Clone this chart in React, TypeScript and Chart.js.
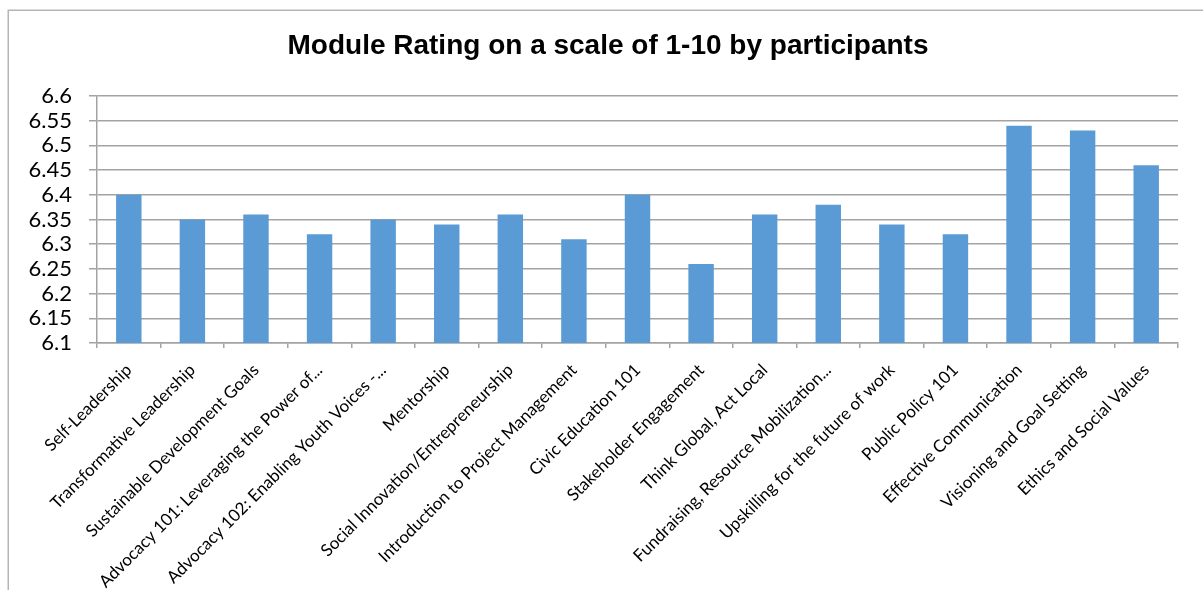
import React, { useEffect, useRef } from "react";
import { Chart, registerables } from "chart.js";

Chart.register(...registerables);

const chartTitle = "Module Rating on a scale of 1-10 by participants";

const modules = [
  "Self-Leadership",
  "Transformative Leadership",
  "Sustainable Development Goals",
  "Advocacy 101: Leveraging the Power of...",
  "Advocacy 102: Enabling Youth Voices -...",
  "Mentorship",
  "Social Innovation/Entrepreneurship",
  "Introduction to Project Management",
  "Civic Education 101",
  "Stakeholder Engagement",
  "Think Global, Act Local",
  "Fundraising, Resource Mobilization...",
  "Upskilling for the future of work",
  "Public Policy 101",
  "Effective Communication",
  "Visioning and Goal Setting",
  "Ethics and Social Values",
];

const ratings = [
  6.4, 6.35, 6.36, 6.32, 6.35, 6.34, 6.36, 6.31, 6.4, 6.26, 6.36, 6.38, 6.34,
  6.32, 6.54, 6.53, 6.46,
];

const yMin = 6.1;
const yMax = 6.6;
const yStep = 0.05;

const W = 1203;
const H = 590;
const GRID = "#a3a3a3";

// Outer frame (left and top edges) plus the centred title
const framePlugin = {
  id: "frameAndTitle",
  beforeDraw(chart: Chart) {
    const ctx = chart.ctx;
    ctx.save();
    ctx.fillStyle = "#ffffff";
    ctx.fillRect(0, 0, chart.width, chart.height);
    ctx.strokeStyle = "#b5b5b5";
    ctx.lineWidth = 1.5;
    ctx.beginPath();
    ctx.moveTo(8.25, chart.height);
    ctx.lineTo(8.25, 10.25);
    ctx.lineTo(chart.width, 10.25);
    ctx.stroke();
    ctx.restore();
  },
  afterDraw(chart: Chart) {
    const ctx = chart.ctx;
    ctx.save();
    ctx.fillStyle = "#000000";
    ctx.font = "bold 28px 'Liberation Sans', Arial, sans-serif";
    ctx.textAlign = "center";
    ctx.textBaseline = "middle";
    ctx.fillText(chartTitle, 608, 46);
    ctx.restore();
  },
};

export default function App() {
  const canvasRef = useRef<HTMLCanvasElement | null>(null);

  useEffect(() => {
    if (!canvasRef.current) return;
    const chart = new Chart(canvasRef.current, {
      type: "bar",
      data: {
        labels: modules,
        datasets: [
          {
            label: "Rating",
            data: ratings,
            backgroundColor: "#5b9bd5",
            borderWidth: 0,
            barPercentage: 0.4,
            categoryPercentage: 1,
          },
        ],
      },
      plugins: [framePlugin],
      options: {
        animation: false,
        responsive: false,
        maintainAspectRatio: false,
        layout: { padding: { left: 0, right: 25, top: 96, bottom: 0 } },
        plugins: {
          legend: { display: false },
          title: { display: false },
          tooltip: { enabled: false },
        },
        scales: {
          x: {
            offset: true,
            grid: {
              display: true,
              offset: true,
              drawOnChartArea: false,
              drawTicks: true,
              tickLength: 5,
              color: GRID,
              lineWidth: 1.5,
            },
            border: { display: true, color: GRID, width: 1.5 },
            ticks: {
              autoSkip: false,
              minRotation: 45,
              maxRotation: 45,
              padding: 12,
              color: "#000000",
              font: { family: "Lato, 'Open Sans', sans-serif", size: 17 },
            },
            afterFit(scale: any) {
              scale.height = 247;
            },
          },
          y: {
            min: yMin,
            max: yMax,
            grid: {
              color: GRID,
              lineWidth: 1.5,
              drawTicks: true,
              tickLength: 8,
            },
            border: { display: true, color: GRID, width: 1.5 },
            ticks: {
              stepSize: yStep,
              autoSkip: false,
              maxTicksLimit: 20,
              padding: 17,
              color: "#000000",
              font: { family: "Lato, 'Open Sans', sans-serif", size: 22, lineHeight: 1 },
              callback: (v: any) => String(Number(Number(v).toFixed(2))),
            },
            afterFit(scale: any) {
              scale.width = 97;
            },
          },
        },
      },
    });
    return () => chart.destroy();
  }, []);

  return (
    <div style={{ position: "absolute", left: 0, top: 0, width: W, height: H, background: "#fff" }}>
      <canvas ref={canvasRef} width={W} height={H} style={{ display: "block", width: W, height: H }} />
    </div>
  );
}
